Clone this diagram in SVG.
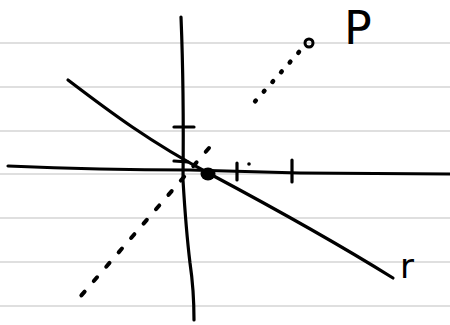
<svg xmlns="http://www.w3.org/2000/svg" width="450" height="325" viewBox="0 0 450 325">
<style>
.rule{stroke:#d4d4d4;stroke-width:1.3}
.ink{fill:none;stroke:#000;stroke-width:3.2;stroke-linecap:round;stroke-linejoin:round}
.dots{fill:none;stroke:#000;stroke-width:4.5;stroke-linecap:round;stroke-dasharray:1 12}
.dash{fill:none;stroke:#000;stroke-width:4;stroke-linecap:round;stroke-dasharray:5 14}
.lbl{font-family:"DejaVu Sans","Liberation Sans",sans-serif;fill:#000}
</style>
<rect width="450" height="325" fill="#fff"/>
<g id="rules">
<line class="rule" x1="0" y1="43" x2="450" y2="43"/>
<line class="rule" x1="0" y1="87" x2="450" y2="87"/>
<line class="rule" x1="0" y1="131" x2="450" y2="131"/>
<line class="rule" x1="0" y1="174" x2="450" y2="174"/>
<line class="rule" x1="0" y1="218" x2="450" y2="218"/>
<line class="rule" x1="0" y1="262" x2="450" y2="262"/>
<line class="rule" x1="0" y1="306" x2="450" y2="306"/>
</g>
<g id="connectors">
<path id="x-axis" class="ink" d="M8,166 Q100,170 190,170 L300,173 L450,174"/>
<path id="y-axis" class="ink" d="M181,17 Q184,90 183,180 Q186,230 190,263 Q194,290 194,320"/>
<path id="line-r" class="ink" d="M68,80 C110,112 150,142 210,174 S340,245 393,278"/>
<path id="dashed" class="dots" d="M299,52 L251,106"/>
<path id="dashed2" class="dash" d="M209,148 L80,297"/>
<g id="ticks" class="ink">
<line x1="174" y1="127" x2="194" y2="127"/>
<line x1="174" y1="161" x2="188" y2="162"/>
<line x1="237" y1="163" x2="237" y2="180"/>
<line x1="292" y1="160" x2="292" y2="182"/>
</g>
<circle cx="249" cy="164" r="1.8" fill="#000"/>
</g>
<g id="point-P">
<circle cx="309" cy="43" r="4" fill="none" stroke="#000" stroke-width="3"/>
<text class="lbl" x="344" y="44" font-size="46">P</text>
</g>
<g id="point-origin">
<ellipse cx="208" cy="174" rx="7.5" ry="6.5" fill="#000"/>
</g>
<g id="label-r">
<text class="lbl" x="400" y="278" font-size="34">r</text>
</g>
</svg>
